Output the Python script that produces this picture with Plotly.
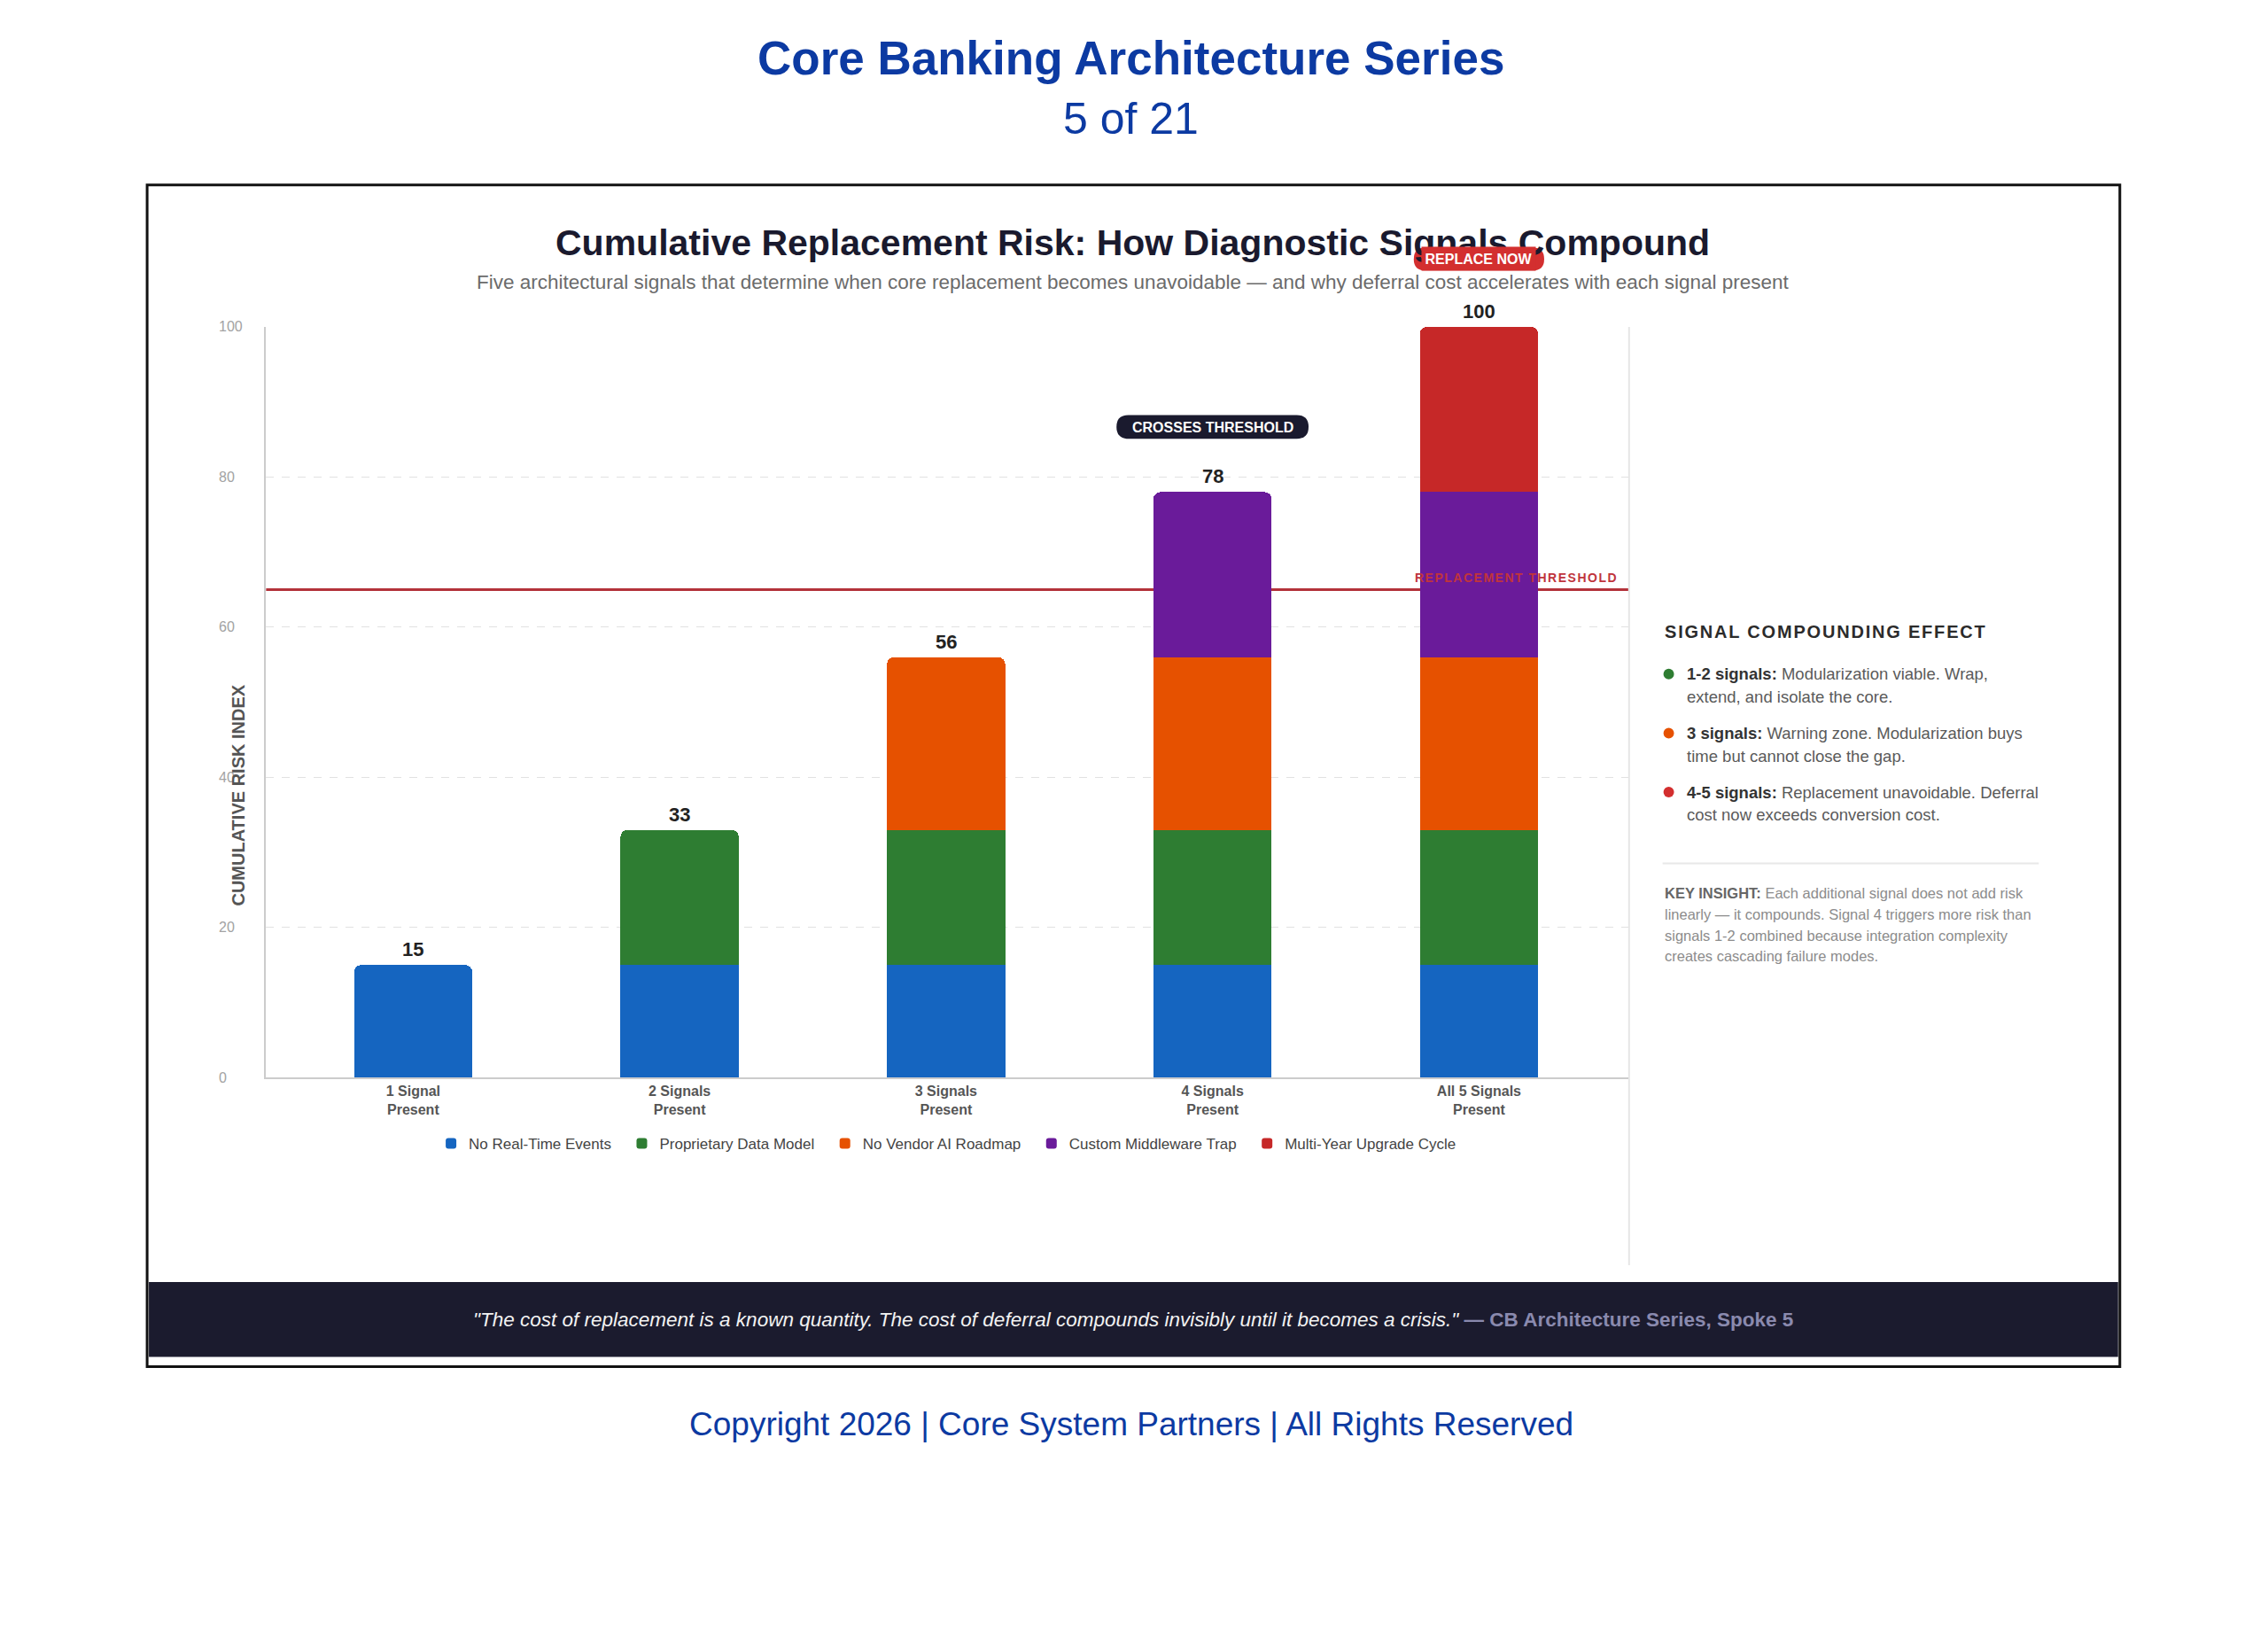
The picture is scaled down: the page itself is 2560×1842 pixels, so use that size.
import plotly.graph_objects as go

# ---------------- data ----------------
categories = ["1 Signal<br>Present", "2 Signals<br>Present", "3 Signals<br>Present",
              "4 Signals<br>Present", "All 5 Signals<br>Present"]
series_names = ["No Real-Time Events", "Proprietary Data Model", "No Vendor AI Roadmap",
                "Custom Middleware Trap", "Multi-Year Upgrade Cycle"]
no_real_time_events = [15, 15, 15, 15, 15]
proprietary_data_model = [None, 18, 18, 18, 18]
no_vendor_ai_roadmap = [None, None, 23, 23, 23]
custom_middleware_trap = [None, None, None, 22, 22]
multi_year_upgrade_cycle = [None, None, None, None, 22]
totals = [15, 33, 56, 78, 100]
threshold = 65
y_ticks = [0, 20, 40, 60, 80, 100]
series_colors = ["#1565c0", "#2e7d32", "#e65100", "#6a1b9a", "#c62828"]

# ---------------- page geometry helpers ----------------
W, H = 2560, 1842
S = 0.9945  # measurement scale correction
FONT = "Liberation Sans, Arial, Helvetica, sans-serif"
BLUE = "#0c3aa2"


def X(p):
    return p * S / W


def Y(p):
    return 1 - p * S / H


PLOT_L, PLOT_R, PLOT_T, PLOT_B = 302, 1848, 371, 1223
X_RANGE = [-0.552, 4.56]


def bar_px(i):
    return PLOT_L + (i - X_RANGE[0]) * (PLOT_R - PLOT_L) / (X_RANGE[1] - X_RANGE[0])


def rr_path(x0, y0, x1, y1, r):
    return (f"M{X(x0 + r)},{Y(y0)} L{X(x1 - r)},{Y(y0)} Q{X(x1)},{Y(y0)} {X(x1)},{Y(y0 + r)} "
            f"L{X(x1)},{Y(y1 - r)} Q{X(x1)},{Y(y1)} {X(x1 - r)},{Y(y1)} "
            f"L{X(x0 + r)},{Y(y1)} Q{X(x0)},{Y(y1)} {X(x0)},{Y(y1 - r)} "
            f"L{X(x0)},{Y(y0 + r)} Q{X(x0)},{Y(y0)} {X(x0 + r)},{Y(y0)} Z")


# ---------------- traces ----------------
xs = list(range(len(categories)))
series_values = [no_real_time_events, proprietary_data_model, no_vendor_ai_roadmap,
                 custom_middleware_trap, multi_year_upgrade_cycle]

fig = go.Figure()
for k, (name, vals, col) in enumerate(zip(series_names, series_values, series_colors)):
    label = name + ("\u00a0\u00a0" if k < len(series_names) - 1 else "")
    fig.add_trace(go.Bar(x=xs, y=vals, name=label, marker=dict(color=col, line=dict(width=0)),
                         hoverinfo="skip"))

shapes = []
annotations = []

# outer card border
shapes.append(dict(type="rect", xref="paper", yref="paper", x0=X(167), x1=X(2406), y0=Y(210), y1=Y(1551),
                   line=dict(color="#111111", width=3), fillcolor="rgba(0,0,0,0)", layer="below"))
# dark quote band
shapes.append(dict(type="rect", xref="paper", yref="paper", x0=X(169), x1=X(2404), y0=Y(1455), y1=Y(1540),
                   line=dict(width=0), fillcolor="#1b1b2e", layer="above"))
# right panel separator
shapes.append(dict(type="line", xref="paper", yref="paper", x0=X(1849), x1=X(1849), y0=Y(371), y1=Y(1436),
                   line=dict(color="#e6e6e6", width=2), layer="below"))
# threshold line
shapes.append(dict(type="line", xref="paper", yref="y", x0=X(PLOT_L), x1=X(PLOT_R), y0=threshold, y1=threshold,
                   line=dict(color="#b3323a", width=3), layer="below"))

# page header / footer
annotations += [
    dict(text="<b>Core Banking Architecture Series</b>", x=X(1284), y=Y(66), font=dict(size=53, color=BLUE)),
    dict(text="5 of 21", x=X(1284), y=Y(135), font=dict(size=50, color=BLUE)),
    dict(text="Copyright 2026 | Core System Partners | All Rights Reserved", x=X(1284), y=Y(1616),
         font=dict(size=37, color=BLUE)),
    dict(text="<b>Cumulative Replacement Risk: How Diagnostic Signals Compound</b>", x=X(1286), y=Y(276),
         font=dict(size=41, color="#1a1a2e")),
    dict(text="Five architectural signals that determine when core replacement becomes unavoidable \u2014 "
              "and why deferral cost accelerates with each signal present",
         x=X(1286), y=Y(320), font=dict(size=22.5, color="#6b6b6b")),
    dict(text="<i>\"The cost of replacement is a known quantity. The cost of deferral compounds invisibly until "
              "it becomes a crisis.\"</i> <b><span style='color:#8a8aae'>\u2014 CB Architecture Series, Spoke 5</span></b>",
         x=X(1286), y=Y(1498), font=dict(size=22.5, color="#f2f2f2")),
]
for a in annotations:
    a.update(xref="paper", yref="paper", xanchor="center", yanchor="middle", showarrow=False)

# y tick labels
for t in y_ticks:
    annotations.append(dict(text=str(t), x=X(246), xref="paper", y=t, yref="y", xanchor="left",
                            yanchor="middle", showarrow=False, font=dict(size=16, color="#a3a3a3")))

# y axis title
annotations.append(dict(text="<b>CUMULATIVE RISK INDEX</b>", x=X(271), y=Y(903), xref="paper", yref="paper",
                        textangle=-90, xanchor="center", yanchor="middle", showarrow=False,
                        font=dict(size=20, color="#555555")))

# value labels
for i, t in enumerate(totals):
    annotations.append(dict(text=f"<b>{t}</b>", x=i, y=t, xref="x", yref="y", xanchor="center",
                            yanchor="bottom", yshift=3, showarrow=False, font=dict(size=22, color="#222222")))

# threshold label
annotations.append(dict(text="<b><span style='letter-spacing:1.5px'>REPLACEMENT THRESHOLD</span></b>",
                        x=X(1838), y=threshold, xref="paper", yref="y",
                        xanchor="right", yanchor="bottom", yshift=4, showarrow=False,
                        font=dict(size=14, color="#c0343c")))

# CROSSES THRESHOLD badge (bar 4)
cx4 = bar_px(3)
shapes.append(dict(type="path", xref="paper", yref="paper", path=rr_path(cx4 - 109, 471, cx4 + 109, 498, 13.5),
                   fillcolor="#1a1a2e", line=dict(width=0), layer="above"))
annotations.append(dict(text="<b>CROSSES THRESHOLD</b>", x=X(cx4), y=Y(485), xref="paper", yref="paper",
                        xanchor="center", yanchor="middle", showarrow=False, font=dict(size=16, color="white")))

# REPLACE NOW badge (bar 5)
cx5 = bar_px(4)
shapes.append(dict(type="path", xref="paper", yref="paper", path=rr_path(cx5 - 74, 281, cx5 + 74, 307, 13),
                   fillcolor="#d32f2f", line=dict(width=0), layer="above"))
annotations.append(dict(text="<b>REPLACE NOW</b>", x=X(cx5), y=Y(294), xref="paper", yref="paper",
                        xanchor="center", yanchor="middle", showarrow=False, width=128, height=26,
                        borderpad=0, bgcolor="#d32f2f", font=dict(size=16, color="white")))

# right panel
annotations.append(dict(text="<b><span style='letter-spacing:1.8px'>SIGNAL COMPOUNDING EFFECT</span></b>",
                        x=X(1887), y=Y(717), xref="paper", yref="paper",
                        xanchor="left", yanchor="middle", showarrow=False, font=dict(size=20, color="#2b2b2b")))
bullets = [
    ("#2e7d32", "1-2 signals:", "Modularization viable. Wrap,", "extend, and isolate the core.", 765),
    ("#e65100", "3 signals:", "Warning zone. Modularization buys", "time but cannot close the gap.", 832),
    ("#d32f2f", "4-5 signals:", "Replacement unavoidable. Deferral", "cost now exceeds conversion cost.", 899),
]
for col, head, l1, l2, yy in bullets:
    shapes.append(dict(type="circle", xref="paper", yref="paper", x0=X(1888), x1=X(1900), y0=Y(yy - 6),
                       y1=Y(yy + 6), fillcolor=col, line=dict(width=0), layer="above"))
    annotations.append(dict(text=f"<b><span style='color:#333333'>{head}</span></b> {l1}", x=X(1913), y=Y(yy),
                            xref="paper", yref="paper", xanchor="left", yanchor="middle", showarrow=False,
                            font=dict(size=18.5, color="#5a5a5a")))
    annotations.append(dict(text=l2, x=X(1913), y=Y(yy + 26), xref="paper", yref="paper", xanchor="left",
                            yanchor="middle", showarrow=False, font=dict(size=18.5, color="#5a5a5a")))

shapes.append(dict(type="line", xref="paper", yref="paper", x0=X(1887), x1=X(2314), y0=Y(980), y1=Y(980),
                   line=dict(color="#e8e8e8", width=2), layer="above"))
insight = [
    "<b><span style='color:#666666'>KEY INSIGHT:</span></b> Each additional signal does not add risk",
    "linearly \u2014 it compounds. Signal 4 triggers more risk than",
    "signals 1-2 combined because integration complexity",
    "creates cascading failure modes.",
]
for k, line in enumerate(insight):
    annotations.append(dict(text=line, x=X(1887), y=Y(1014 + k * 23.7), xref="paper", yref="paper",
                            xanchor="left", yanchor="middle", showarrow=False,
                            font=dict(size=16.5, color="#8c8c8c")))

fig.update_layout(
    width=W, height=H, autosize=False,
    margin=dict(l=0, r=0, t=0, b=0, pad=0),
    paper_bgcolor="white", plot_bgcolor="white",
    font=dict(family=FONT),
    barmode="stack", bargap=0.556, barcornerradius=8,
    showlegend=True,
    legend=dict(orientation="h", x=X(1075), xanchor="center", y=Y(1298), yanchor="middle",
                font=dict(size=17, color="#444444"), bgcolor="rgba(0,0,0,0)", traceorder="normal",
                itemclick=False, itemdoubleclick=False),
    xaxis=dict(domain=[X(PLOT_L), X(PLOT_R)], range=X_RANGE, tickmode="array", tickvals=xs,
               ticktext=[f"<b>{c}</b>" for c in categories], tickfont=dict(size=16, color="#555555"),
               showgrid=False, zeroline=False, showline=True, linecolor="#cccccc", linewidth=2,
               ticks="", fixedrange=True),
    yaxis=dict(domain=[Y(PLOT_B), Y(PLOT_T)], range=[0, 100], tickmode="array", tickvals=y_ticks[1:-1],
               showticklabels=False, showgrid=True, gridcolor="#e2e2e2", griddash="dash", gridwidth=1,
               zeroline=False, showline=True, linecolor="#cccccc", linewidth=2, ticks="", fixedrange=True),
    shapes=shapes,
    annotations=annotations,
)

fig.write_html("out.html", config={"displayModeBar": False},
               post_script="document.body.style.margin='0';document.body.style.overflow='hidden';")
